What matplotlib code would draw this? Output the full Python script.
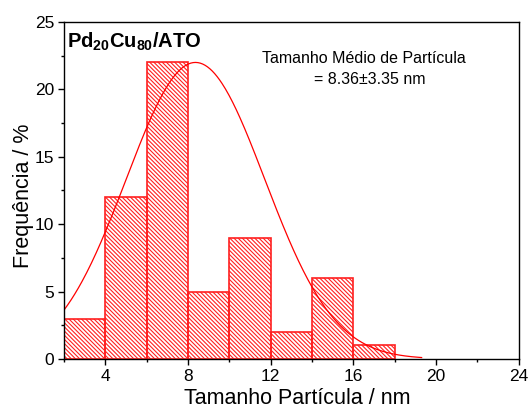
import numpy as np, matplotlib
matplotlib.use("Agg")
import matplotlib.pyplot as plt

plt.rcParams['font.family'] = ['Liberation Sans', 'DejaVu Sans']
plt.rcParams['mathtext.fontset'] = 'custom'
plt.rcParams['mathtext.rm'] = 'Liberation Sans'
plt.rcParams['mathtext.bf'] = 'Liberation Sans:bold'
plt.rcParams['hatch.linewidth'] = 0.8

# histogram data
bin_left = [2, 4, 6, 8, 10, 12, 14, 16]
bin_width = 2
freq = [3, 12, 22, 5, 9, 2, 6, 1]

# gaussian fit parameters
fit_mean = 8.36
fit_sigma = 3.35
fit_amp = 22.0
fit_range = (2.0, 19.3)

fig = plt.figure(figsize=(5.31, 4.15), dpi=100)
ax = fig.add_axes([0.1205, 0.135, 0.8565, 0.812])

ax.bar(bin_left, freq, width=bin_width, align='edge', facecolor='none',
       edgecolor='#ff2020', linewidth=1.2, hatch='\\' * 8)

xs = np.linspace(fit_range[0], fit_range[1], 300)
ys = fit_amp * np.exp(-(xs - fit_mean) ** 2 / (2 * fit_sigma ** 2))
ax.plot(xs, ys, color='#ff0000', lw=0.9)

ax.set_xlim(2, 24)
ax.set_ylim(0, 25)
ax.set_xticks([4, 8, 12, 16, 20, 24])
ax.set_xticks([2, 6, 10, 14, 18, 22], minor=True)
ax.set_yticks([0, 5, 10, 15, 20, 25])
ax.set_yticks([2.5, 7.5, 12.5, 17.5, 22.5], minor=True)
ax.tick_params(which='major', direction='out', length=4, width=1, labelsize=12.5, pad=3)
ax.tick_params(which='minor', direction='out', length=2.5, width=1)
for sp in ax.spines.values():
    sp.set_linewidth(1.0)

ax.set_xlabel('Tamanho Partícula / nm', fontsize=15.5)
ax.set_ylabel('Frequência / %', fontsize=15.5)
ax.xaxis.set_label_coords(0.512, -0.085)
ax.yaxis.set_label_coords(-0.066, 0.484)

ax.text(0.006, 0.94, r'$\mathbf{Pd_{20}Cu_{80}/ATO}$', transform=ax.transAxes,
        fontsize=14.5, ha='left', va='center')
ax.text(0.659, 0.893, 'Tamanho Médio de Partícula', transform=ax.transAxes,
        fontsize=11.5, ha='center', va='center')
ax.text(0.672, 0.828, '= 8.36±3.35 nm', transform=ax.transAxes,
        fontsize=11.5, ha='center', va='center')

fig.savefig('out.png', dpi=100)
